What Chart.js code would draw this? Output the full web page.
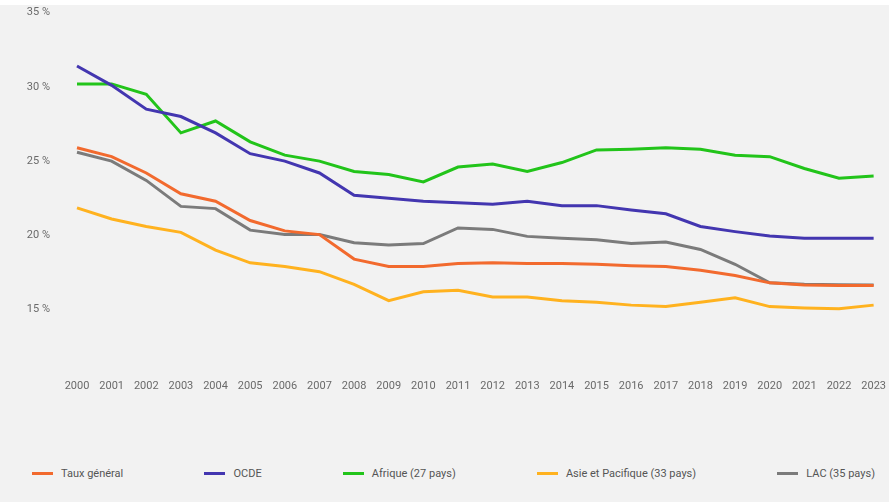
<!DOCTYPE html>
<html lang="fr">
<head>
<meta charset="utf-8">
<script src="https://cdn.jsdelivr.net/npm/chart.js@4/dist/chart.umd.min.js"></script>
<style>
    html, body {
        margin: 0;
        padding: 0;
        width: 889px;
        height: 502px;
        background: #f2f2f2;
        overflow: hidden;
        font-family: Roboto, sans-serif;
    }
    .top-strip {
        position: absolute;
        left: 0; top: 0;
        width: 889px; height: 5px;
        background: #ffffff;
        z-index: 2;
    }
    .chart-box {
        position: absolute;
        left: 0; top: -21px;
        width: 889px; height: 431px;
    }
    #legend {
        position: absolute;
        left: 32px; top: 467px;
        width: 843px;
        display: flex;
        justify-content: space-between;
        align-items: center;
        font-size: 11px;
        color: #555;
    }
    #legend .item { display: flex; align-items: center; }
    #legend .swatch { width: 21px; height: 3px; margin-right: 8px; }
</style>
</head>
<body>
<div class="top-strip"></div>
<div class="chart-box"><canvas id="taxChart"></canvas></div>
<div id="legend"></div>

<script>
const years = ['2000', '2001', '2002', '2003', '2004', '2005', '2006', '2007', '2008', '2009', '2010', '2011',
    '2012', '2013', '2014', '2015', '2016', '2017', '2018', '2019', '2020', '2021', '2022', '2023'];

const tauxGeneral = [25.9, 25.3, 24.2, 22.8, 22.3, 21.0, 20.3, 20.05, 18.4, 17.9, 17.9, 18.1,
    18.15, 18.1, 18.1, 18.05, 17.95, 17.9, 17.65, 17.3, 16.8, 16.65, 16.63, 16.63];
const ocde = [31.4, 30.1, 28.5, 28.0, 26.9, 25.5, 25.0, 24.2, 22.7, 22.5, 22.3, 22.2,
    22.1, 22.3, 22.0, 22.0, 21.7, 21.45, 20.6, 20.25, 19.95, 19.8, 19.8, 19.8];
const afrique = [30.2, 30.2, 29.5, 26.9, 27.7, 26.3, 25.4, 25.0, 24.3, 24.1, 23.6, 24.6,
    24.8, 24.3, 24.9, 25.75, 25.8, 25.9, 25.8, 25.4, 25.3, 24.5, 23.85, 24.0];
const asiePacifique = [21.85, 21.1, 20.6, 20.2, 19.0, 18.15, 17.9, 17.55, 16.7, 15.6, 16.2, 16.3,
    15.85, 15.85, 15.6, 15.5, 15.3, 15.2, 15.5, 15.8, 15.2, 15.1, 15.05, 15.3];
const lac = [25.6, 25.0, 23.7, 21.95, 21.8, 20.35, 20.05, 20.05, 19.5, 19.35, 19.45, 20.5,
    20.4, 19.93, 19.8, 19.7, 19.45, 19.55, 19.05, 18.05, 16.8, 16.7, 16.68, 16.65];

const yTicks = [15, 20, 25, 30, 35];

function series(label, data, color) {
    return {
        label: label,
        data: data,
        borderColor: color,
        backgroundColor: color,
        borderWidth: 3,
        pointRadius: 0,
        tension: 0,
        fill: false
    };
}

const chart = new Chart(document.getElementById('taxChart'), {
    type: 'line',
    data: {
        labels: years,
        datasets: [
            series('Taux général', tauxGeneral, '#f26a2e'),
            series('OCDE', ocde, '#4336b0'),
            series('Afrique (27 pays)', afrique, '#22c41a'),
            series('Asie et Pacifique (33 pays)', asiePacifique, '#ffb21f'),
            series('LAC (35 pays)', lac, '#7b7b7b')
        ]
    },
    options: {
        responsive: true,
        maintainAspectRatio: false,
        animation: false,
        layout: { padding: { top: 4, left: 0, right: 0, bottom: 0 } },
        plugins: {
            legend: { display: false },
            tooltip: { enabled: false }
        },
        scales: {
            x: {
                grid: { display: false, drawTicks: false },
                border: { display: false },
                ticks: {
                    color: '#6a6a6a',
                    font: { family: 'Roboto', size: 11 },
                    padding: 3,
                    maxRotation: 0,
                    autoSkip: false
                }
            },
            y: {
                min: 10.5,
                max: 35,
                grid: { display: false, drawTicks: false },
                border: { display: false },
                afterBuildTicks: scale => {
                    scale.ticks = yTicks.map(v => ({ value: v }));
                },
                afterFit: scale => { scale.width = 77; },
                ticks: {
                    color: '#6a6a6a',
                    font: { family: 'Roboto', size: 11 },
                    padding: 27,
                    callback: v => v + ' %'
                }
            }
        }
    }
});

// legend built from the datasets
const legendEl = document.getElementById('legend');
chart.data.datasets.forEach(ds => {
    const item = document.createElement('div');
    item.className = 'item';
    const sw = document.createElement('span');
    sw.className = 'swatch';
    sw.style.background = ds.borderColor;
    const txt = document.createElement('span');
    txt.textContent = ds.label;
    item.appendChild(sw);
    item.appendChild(txt);
    legendEl.appendChild(item);
});
</script>
</body>
</html>
